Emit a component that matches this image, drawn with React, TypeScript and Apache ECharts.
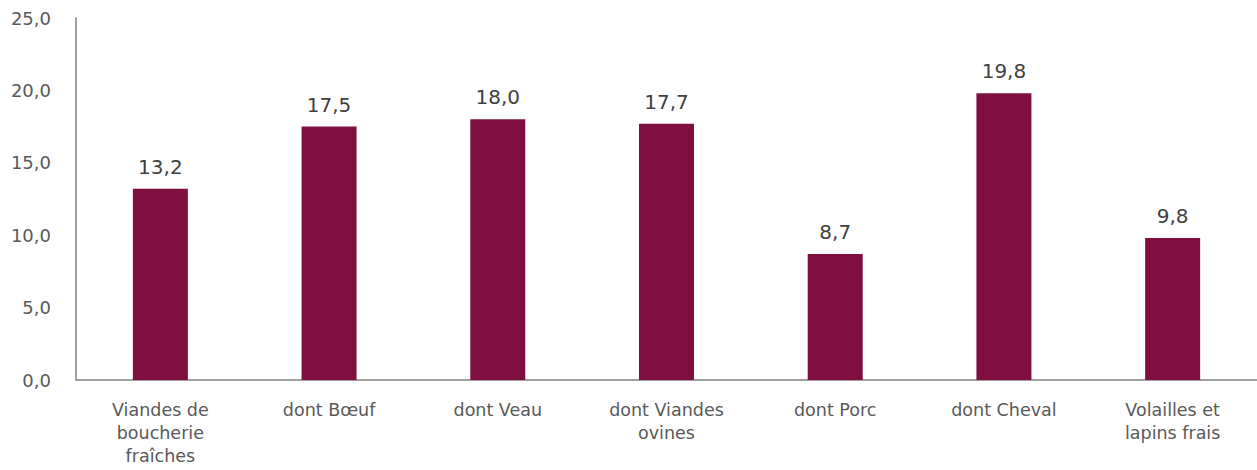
import React, { useEffect, useRef } from "react";
import * as echarts from "echarts";

const categories = [
  "Viandes de\nboucherie\nfraîches",
  "dont Bœuf",
  "dont Veau",
  "dont Viandes\novines",
  "dont Porc",
  "dont Cheval",
  "Volailles et\nlapins frais",
];
const values = [13.2, 17.5, 18.0, 17.7, 8.7, 19.8, 9.8];
const yTicks = { min: 0, max: 25, interval: 5 };

const fmt = (v: number) => v.toFixed(1).replace(".", ",");
const FONT = "DejaVu Sans";

export default function App() {
  const ref = useRef<HTMLDivElement>(null);
  useEffect(() => {
    document.body.style.margin = "0";
    const chart = echarts.init(ref.current!, null, { renderer: "svg" });
    chart.setOption({
      animation: false,
      textStyle: { fontFamily: FONT },
      grid: { left: 76, right: 0, top: 18, bottom: 90, containLabel: false },
      xAxis: {
        type: "category",
        data: categories,
        axisLine: { show: true, lineStyle: { color: "#a0a0a0", width: 2 } },
        axisTick: { show: false },
        axisLabel: {
          interval: 0,
          color: "#595959",
          fontSize: 17.5,
          lineHeight: 23,
          margin: 18,
          fontFamily: FONT,
        },
      },
      yAxis: {
        type: "value",
        min: yTicks.min,
        max: yTicks.max,
        interval: yTicks.interval,
        axisLine: { show: true, lineStyle: { color: "#a0a0a0", width: 2 } },
        axisTick: { show: false },
        splitLine: { show: false },
        axisLabel: {
          color: "#595959",
          fontSize: 18,
          margin: 25,
          fontFamily: FONT,
          formatter: (v: number) => fmt(v),
        },
      },
      series: [
        {
          type: "bar",
          data: values,
          barWidth: 55,
          itemStyle: { color: "#7f0f40" },
          label: {
            show: true,
            position: "top",
            distance: 12,
            color: "#404040",
            fontSize: 20,
            fontFamily: FONT,
            formatter: (p: any) => fmt(p.value),
          },
        },
      ],
    });
    return () => chart.dispose();
  }, []);
  return <div ref={ref} style={{ width: 1257, height: 470 }} />;
}
